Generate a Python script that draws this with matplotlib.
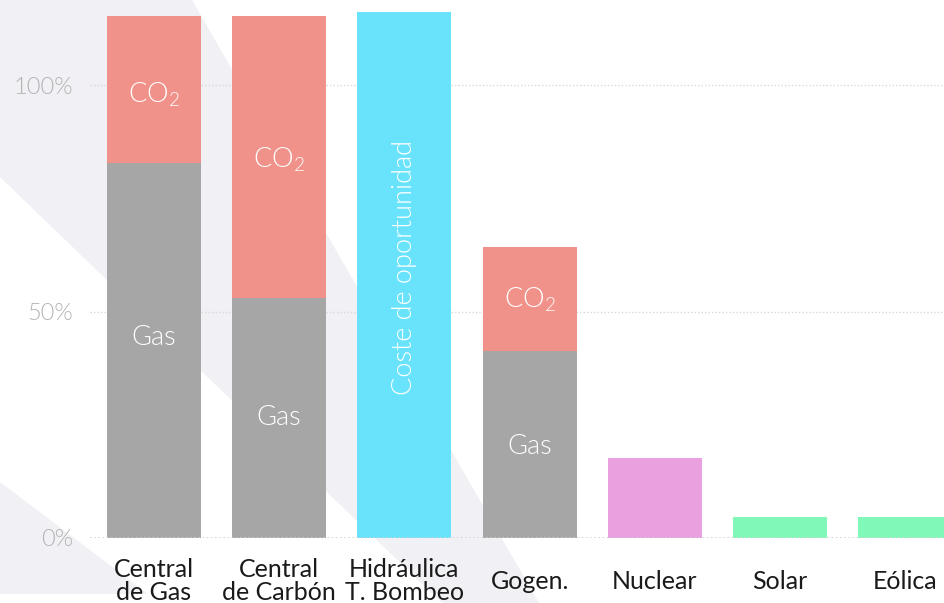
import matplotlib.pyplot as plt
from matplotlib.patches import Polygon
import numpy as np

plt.rcParams['font.family'] = ['Lato', 'DejaVu Sans']
plt.rcParams['mathtext.default'] = 'regular'

# datos (% respecto a la central de gas)
categorias = ["Central\nde Gas", "Central\nde Carbón", "Hidráulica\nT. Bombeo",
              "Gogen.", "Nuclear", "Solar", "Eólica"]
gas = [82.8, 53.0, 0, 41.3, 0, 0, 0]
co2 = [32.4, 62.2, 0, 22.9, 0, 0, 0]
otros = [0, 0, 116.1, 0, 17.7, 4.6, 4.6]
colores_otros = ['none', 'none', '#68e3fb', 'none', '#eaa0de', '#80f8b8', '#80f8b8']

# etiquetas dentro de las barras: (barra, y, texto, rotacion)
etiquetas = [
    (0, 97.8, "CO$_2$", 0), (0, 44.2, "Gas", 0),
    (1, 83.4, "CO$_2$", 0), (1, 26.5, "Gas", 0),
    (2, 59.8, "Coste de oportunidad", 90),
    (3, 52.5, "CO$_2$", 0), (3, 20.3, "Gas", 0),
]

fig = plt.figure(figsize=(9.45, 6.03), dpi=100)

# bandas diagonales del fondo
bg = fig.add_axes([0, 0, 1, 1])
bg.set_xlim(0, 945)
bg.set_ylim(603, 0)
bg.axis('off')
bg.add_patch(Polygon([(0, 0), (192, 0), (539, 603), (442, 603), (0, 177)],
                     closed=True, fc='#f0f0f5', ec='none'))
bg.add_patch(Polygon([(0, 482), (148, 594), (0, 594)],
                     closed=True, fc='#f0f0f5', ec='none'))

ax = fig.add_axes([90/945, 65/603, 1 - 90/945, 538/603])
ax.patch.set_alpha(0)
x = np.arange(len(categorias))
w = 0.75

ax.bar(x, gas, w, color='#a6a6a6', zorder=2)
ax.bar(x, co2, w, bottom=gas, color='#f0928a', zorder=2)
ax.bar(x, otros, w, color=colores_otros, zorder=2)

for i, y, txt, rot in etiquetas:
    ax.text(x[i], y, txt, color='white', fontsize=19.5, fontweight=300,
            ha='center', va='center', rotation=rot, zorder=3)

ax.set_xlim(-0.511, 6.318)
ax.set_ylim(0, 118.8)

for v in [50, 100]:
    ax.axhline(v, color='#d9d9d9', lw=1, ls=(0, (1, 1.5)), zorder=1)
ax.axhline(0, color='#d0d0d0', lw=1.2, ls=(0, (1, 1.5)), zorder=4)

ax.set_yticks([0, 50, 100])
ax.set_yticklabels(["0%", "50%", "100%"], color='#b3b3b3', fontsize=17,
                   fontweight=300)
ax.set_xticks(x)
ax.set_xticklabels(categorias, fontsize=18, color='#1a1a1a', linespacing=1.0)
for lbl in ax.get_xticklabels():
    lbl.set_va('center')
ax.tick_params(axis='x', length=0, pad=31)
ax.tick_params(axis='y', length=0, pad=12)
for s in ax.spines.values():
    s.set_visible(False)

fig.savefig('out.png', dpi=100)
